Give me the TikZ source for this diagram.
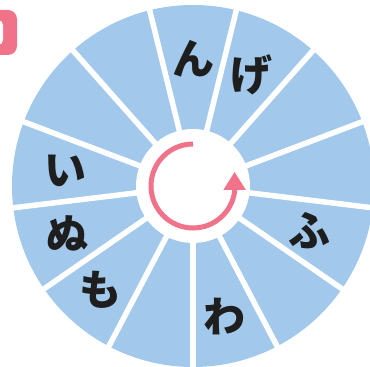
\documentclass[tikz,border=0pt]{standalone}
\usepackage{fontspec}
\newfontfamily\jpfont{Noto Sans CJK JP}
\usetikzlibrary{arrows.meta,calc}
\definecolor{wheelblue}{RGB}{162,201,235}
\definecolor{arrowpink}{RGB}{241,115,138}
\definecolor{kanablack}{RGB}{30,30,30}
\tikzset{kana/.style={font=\jpfont\bfseries\fontsize{42}{42}\selectfont, text=kanablack}}
\begin{document}
\begin{tikzpicture}[x=1pt,y=1pt,line width=5.5pt]
\useasboundingbox (0,0) rectangle (370,367);
% badge cut off at the left edge
\fill[arrowpink, rounded corners=9pt] (-30,312) rectangle (17,357);
\fill[white, rounded corners=5pt] (-20,322) rectangle (3,347);
% wheel
\coordinate (c) at (193,181);
\fill[wheelblue] (c) circle [radius=181];
\draw [white] (c) ++(270:50) -- ++(270:140);
\draw [white] (c) ++(297.69:50) -- ++(297.69:140);
\draw [white] (c) ++(325.38:50) -- ++(325.38:140);
\draw [white] (c) ++(353.08:50) -- ++(353.08:140);
\draw [white] (c) ++(20.77:50) -- ++(20.77:140);
\draw [white] (c) ++(48.46:50) -- ++(48.46:140);
\draw [white] (c) ++(76.15:50) -- ++(76.15:140);
\draw [white] (c) ++(103.85:50) -- ++(103.85:140);
\draw [white] (c) ++(131.54:50) -- ++(131.54:140);
\draw [white] (c) ++(159.23:50) -- ++(159.23:140);
\draw [white] (c) ++(186.92:50) -- ++(186.92:140);
\draw [white] (c) ++(214.62:50) -- ++(214.62:140);
\draw [white] (c) ++(242.31:50) -- ++(242.31:140);
\fill[white] (c) circle [radius=57];
% turning arrow
\draw [arrowpink, line width=5pt, -{Triangle[length=18pt,width=21pt]}] (c) ++(90:42) arc [start angle=90, end angle=352, radius=42] -- ++(0,20);
% kana
\node[kana] (n) at ($(c)+(90:127)$) {ん};
\node[kana] (ge) at ($(c)+(62.3:125)$) {げ};
\node[kana] (fu) at ($(c)+(-20.8:125)$) {ふ};
\node[kana] (wa) at ($(c)+(-76.2:134)$) {わ};
\node[kana] (mo) at ($(c)+(228.5:139)$) {も};
\node[kana] (nu) at ($(c)+(200.8:134)$) {ぬ};
\node[kana] (i) at ($(c)+(173:128)$) {い};
\end{tikzpicture}
\end{document}
